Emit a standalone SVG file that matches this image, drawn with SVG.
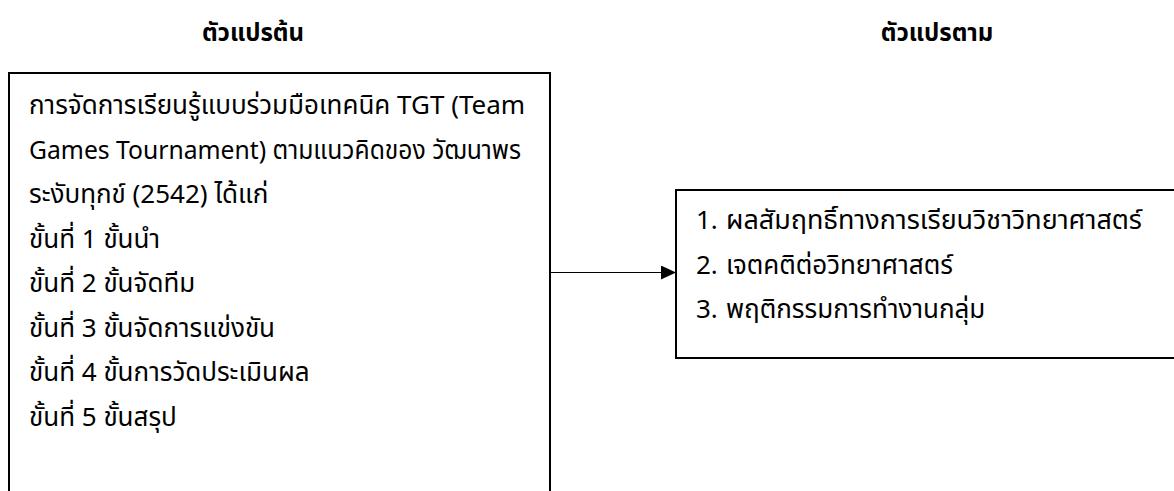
<svg xmlns="http://www.w3.org/2000/svg" width="1174" height="491" viewBox="0 0 1174 491">
<style>
  .t { font-family: 'Noto Sans Thai', 'Noto Sans', sans-serif; font-size: 26px; fill: #000; }
  .h { font-family: 'Noto Sans Thai', 'Noto Sans', sans-serif; font-size: 24px; font-weight: bold; fill: #000; text-anchor: middle; }
  .box { fill: #fff; stroke: #000; stroke-width: 2; }
  .conn { stroke: #000; stroke-width: 1.2; fill: none; }
</style>
<defs>
  <marker id="arr" markerWidth="16" markerHeight="14" refX="15" refY="7" orient="auto" markerUnits="userSpaceOnUse">
    <path d="M0,0 L15,7 L0,14 Z" fill="#000"/>
  </marker>
</defs>
<rect width="1174" height="491" fill="#fff"/>
<g id="header-independent"><text class="h" x="253" y="41">ตัวแปรต้น</text></g>
<g id="header-dependent"><text class="h" x="937" y="41">ตัวแปรตาม</text></g>
<g id="node-independent">
  <rect class="box" x="9" y="73" width="541" height="440"/>
  <text class="t" x="29" y="114">การจัดการเรียนรู้แบบร่วมมือเทคนิค TGT (Team</text>
  <text class="t" x="29" y="158.5" textLength="492" lengthAdjust="spacingAndGlyphs">Games Tournament) ตามแนวคิดของ วัฒนาพร</text>
  <text class="t" x="29" y="203">ระงับทุกข์ (2542) ได้แก่</text>
  <text class="t" x="29" y="247.5">ขั้นที่ 1 ขั้นนำ</text>
  <text class="t" x="29" y="292">ขั้นที่ 2 ขั้นจัดทีม</text>
  <text class="t" x="29" y="336.5">ขั้นที่ 3 ขั้นจัดการแข่งขัน</text>
  <text class="t" x="29" y="381">ขั้นที่ 4 ขั้นการวัดประเมินผล</text>
  <text class="t" x="29" y="425.5">ขั้นที่ 5 ขั้นสรุป</text>
</g>
<g id="node-dependent">
  <rect class="box" x="676" y="190" width="510" height="168"/>
  <text class="t" x="696" y="229">1.</text><text class="t" x="726" y="229" textLength="416" lengthAdjust="spacingAndGlyphs">ผลสัมฤทธิ์ทางการเรียนวิชาวิทยาศาสตร์</text>
  <text class="t" x="696" y="273.5">2.</text><text class="t" x="726" y="273.5">เจตคติต่อวิทยาศาสตร์</text>
  <text class="t" x="696" y="318">3.</text><text class="t" x="726" y="318">พฤติกรรมการทำงานกลุ่ม</text>
</g>
<g id="connectors">
  <line class="conn" x1="550" y1="272.5" x2="676" y2="272.5" marker-end="url(#arr)"/>
</g>
</svg>
